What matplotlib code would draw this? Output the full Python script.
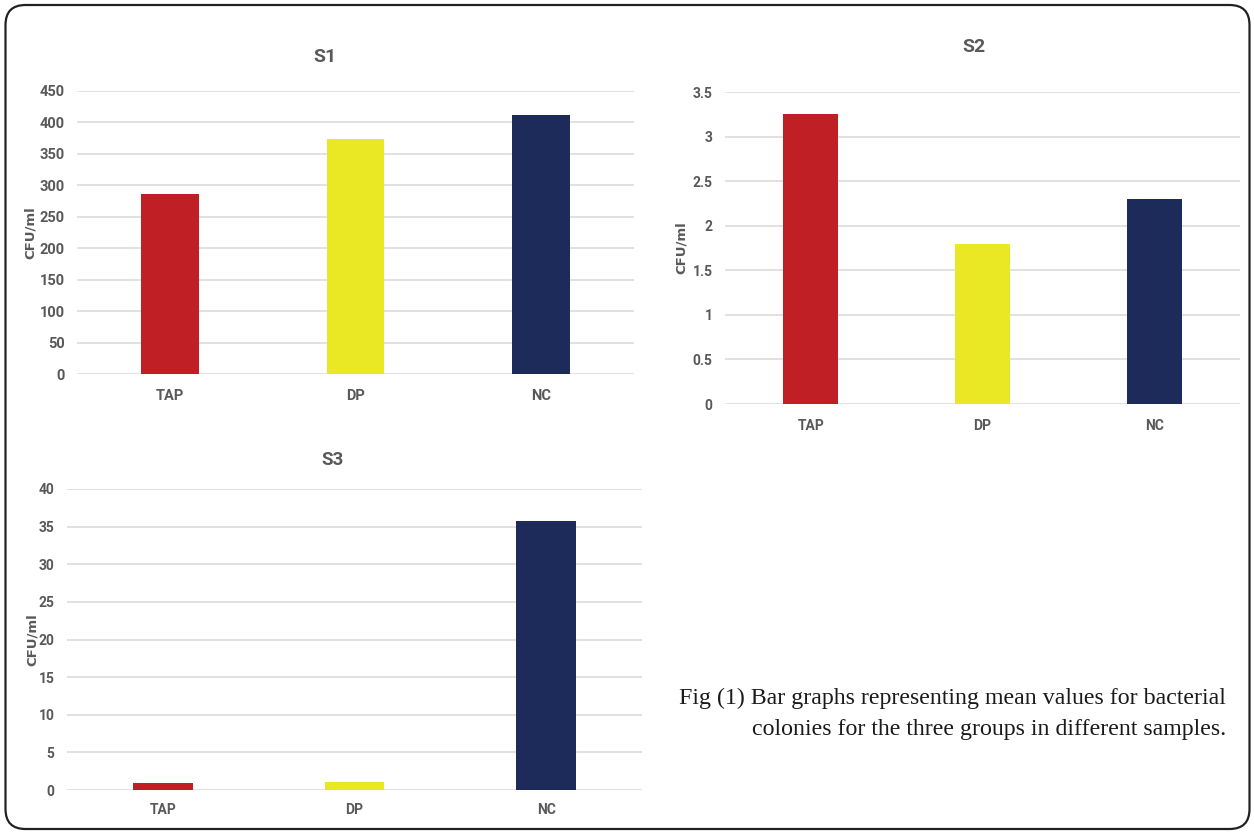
import matplotlib
matplotlib.use("Agg")
import matplotlib.pyplot as plt
from matplotlib.patches import FancyBboxPatch

categories = ["TAP", "DP", "NC"]
s1_values = [286, 373, 412]
s2_values = [3.25, 1.8, 2.3]
s3_values = [0.9, 1.0, 35.7]
s1_ticks = [0, 50, 100, 150, 200, 250, 300, 350, 400, 450]
s2_ticks = [0, 0.5, 1, 1.5, 2, 2.5, 3, 3.5]
s3_ticks = [0, 5, 10, 15, 20, 25, 30, 35, 40]
titles = ["S1", "S2", "S3"]
ylabel = "CFU/ml"
caption = ("Fig (1) Bar graphs representing mean values for bacterial\n"
           "colonies for the three groups in different samples.")

bar_colors = ["#C01F26", "#EAE824", "#1C2B59"]
grid_c = "#D9D9D9"
text_c = "#595959"
cond = "Roboto"

W, H = 1254, 832
fig = plt.figure(figsize=(W / 100, H / 100), dpi=100)


def add_axes(x0, x1, ytop, ybot):
    return fig.add_axes([x0 / W, 1 - ybot / H, (x1 - x0) / W, (ybot - ytop) / H])


def fmt(v):
    return f"{v:g}"


def panel(ax, values, ticks, tick_fs, xpad, ypad, bw):
    ax.bar(range(len(categories)), values, width=bw, color=bar_colors, zorder=3)
    ax.set_xlim(-0.5, len(categories) - 0.5)
    ax.set_ylim(ticks[0], ticks[-1])
    ax.set_yticks(ticks)
    ax.set_yticklabels([fmt(t) for t in ticks])
    ax.set_xticks(range(len(categories)))
    ax.set_xticklabels(categories)
    for s in ax.spines.values():
        s.set_visible(False)
    ax.yaxis.grid(True, color=grid_c, lw=1.1, zorder=0)
    ax.set_axisbelow(True)
    ax.tick_params(axis="both", length=0, colors=text_c)
    ax.tick_params(axis="y", pad=ypad)
    ax.tick_params(axis="x", pad=xpad)
    for lab in ax.get_xticklabels() + ax.get_yticklabels():
        lab.set_fontfamily(cond)
        lab.set_fontweight("bold")
        lab.set_fontsize(tick_fs)
    ax.set_facecolor("none")


ax1 = add_axes(77, 634, 91, 374)
panel(ax1, s1_values, s1_ticks, 10.5, 11, 9, 0.31)
ax2 = add_axes(725, 1240, 92, 404)
panel(ax2, s2_values, s2_ticks, 10, 11, 9, 0.32)
ax3 = add_axes(67, 642, 489, 790)
panel(ax3, s3_values, s3_ticks, 10, 9, 9, 0.31)


def ftext(x, y, s, **kw):
    fig.text(x / W, 1 - y / H, s, **kw)


ftext(325, 57, titles[0], ha="center", va="center", fontsize=14, fontweight="bold",
      color=text_c, family=cond)
ftext(974, 47, titles[1], ha="center", va="center", fontsize=14, fontweight="bold",
      color=text_c, family=cond)
ftext(333, 460, titles[2], ha="center", va="center", fontsize=13.5, fontweight="bold",
      color=text_c, family=cond)

for (x, y) in [(30, 233), (681, 248), (32, 640)]:
    ftext(x, y, ylabel, ha="center", va="center", rotation=90, fontsize=9.5,
          fontweight="bold", color=text_c, family="DejaVu Sans")

ftext(1226, 714, caption, ha="right", va="center", multialignment="right",
      fontsize=17.2, family="Liberation Serif", color="#1a1a1a", linespacing=1.65)

border = FancyBboxPatch((0.055, 0.03), 12.44, 8.24,
                        boxstyle="round,pad=0,rounding_size=0.2",
                        transform=fig.dpi_scale_trans, fill=False,
                        edgecolor="#222222", lw=1.6, zorder=10)
fig.patches.append(border)

fig.savefig("out.png", dpi=100)
